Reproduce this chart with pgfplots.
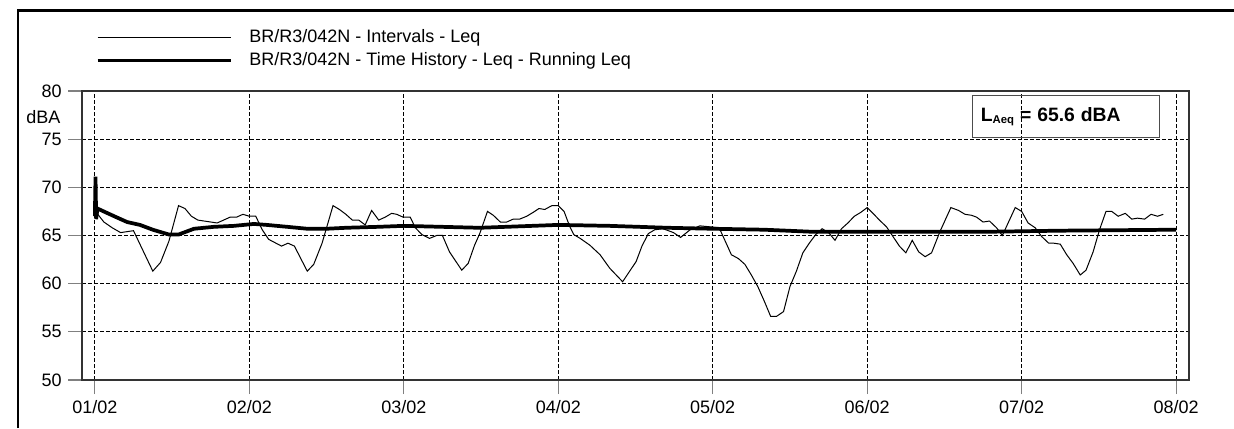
\documentclass[border=0pt]{standalone}
\usepackage{fontspec}
\setmainfont{Liberation Sans}
\usepackage{pgfplots}
\pgfplotsset{compat=1.18}

\pgfplotstableread{
h v
0.1 67.5
1.4 66.4
2.7 65.8
4 65.3
6 65.5
9 61.3
10.2 62.2
11.5 64.4
13 68.1
14 67.8
15 67.0
16 66.6
17 66.5
19 66.3
20 66.6
21 66.9
22 66.9
23 67.2
24 67.0
25 67.0
26 65.6
27 64.6
29 63.9
30 64.2
31 63.9
33 61.3
34 62.0
35.3 64.2
37 68.1
38 67.7
39 67.2
40 66.6
41 66.6
42 66.1
43 67.6
44.1 66.6
45.1 66.9
46.1 67.3
46.9 67.2
47.9 66.9
49 66.9
49.8 65.8
50.8 65.1
52 64.7
53.1 65.0
54 65.0
55.1 63.3
57 61.4
58 62.1
59 64.0
59.8 65.2
61 67.5
61.9 67.1
63 66.4
64 66.4
65 66.7
66 66.7
67.1 67.0
68.1 67.4
69 67.8
69.9 67.7
71 68.1
72 68.1
72.9 67.5
73.8 65.9
74.4 65.1
75.4 64.7
76.9 64.0
78.5 63.0
80 61.6
82 60.2
82.9 61.1
84.1 62.3
85 63.9
86 65.2
87 65.6
88.3 65.7
89.9 65.3
91 64.8
92.5 65.6
94 66.0
95.6 65.9
97 65.8
98.9 63.0
100 62.6
101 62.0
102 60.9
103 59.7
104 58.2
105 56.6
105.9 56.6
107 57.1
108 59.7
109 61.3
110 63.2
111 64.2
112 65.1
113 65.7
114 65.3
115 64.5
116 65.7
117 66.3
118 67.0
119 67.4
120 67.9
120.9 67.3
121.9 66.6
123 65.9
124 64.9
125 63.9
126 63.2
127 64.5
128 63.3
129 62.8
130 63.2
131.3 65.4
133 67.9
134.2 67.6
135.2 67.2
136.2 67.1
137 66.9
138 66.4
139 66.5
140.1 65.8
141 65.0
142.1 66.6
143 67.9
144 67.5
145 66.3
146.1 65.8
147.1 64.9
148.2 64.2
149 64.2
150 64.1
151 63.0
152 62.1
153.1 60.9
154 61.4
155.1 63.3
156.1 65.6
157.1 67.5
158 67.5
159 67.0
160.1 67.3
161.1 66.7
162 66.8
163.1 66.7
164.1 67.2
165.1 67.0
166 67.2
}\intervals

\pgfplotstableread{
h v
0 67.0
0.1 71.1
0.2 66.7
0.4 67.8
3 67.0
5 66.4
7 66.1
9 65.6
11.5 65.1
13 65.1
15.4 65.7
18.5 65.9
21.6 66.0
24.7 66.2
26.7 66.1
29.9 65.9
33 65.7
36 65.7
39 65.8
44 65.9
48 66.0
59.8 65.8
72 66.1
80 66.0
89 65.8
96 65.7
104 65.6
111 65.4
120 65.4
134 65.4
140 65.4
150 65.5
168 65.6
}\running

\begin{document}
\fontsize{13.5}{16}\selectfont
\begin{tikzpicture}
\useasboundingbox (0pt,0pt) rectangle (925.5pt,321pt);
\draw[line width=2.2pt] (13.5pt,0pt) -- (13.5pt,313pt) -- (925.5pt,313pt);
\begin{axis}[
    at={(61.5pt,36pt)}, anchor=south west,
    scale only axis,
    width=830.25pt, height=216.75pt,
    xmin=-2, xmax=170,
    ymin=50, ymax=80,
    xtick={0,24,48,72,96,120,144,168},
    xticklabels={01/02,02/02,03/02,04/02,05/02,06/02,07/02,08/02},
    ytick={50,55,60,65,70,75,80},
    /pgf/number format/assume math mode=true,
    tick align=outside,
    major tick length=10.5pt,
    tick style={gray, line width=0.8pt},
    xtick pos=bottom, ytick pos=left,
    axis line style={black!80, line width=0.8pt},
    grid=major,
    grid style={black, dash pattern=on 3pt off 1.5pt, line width=0.6pt},
    ticklabel style={font=\fontsize{13.5}{16}\selectfont},
    legend image code/.code={\draw[#1] (0pt,0pt) -- (100pt,0pt);},
    legend style={at={(0.0085,1.145)}, anchor=west, draw=none, fill=none,
        font=\fontsize{13.5}{16}\selectfont, row sep=2.5pt,
        nodes={inner sep=1.5pt}, column sep=11pt},
    legend cell align=left,
    clip=false,
]
\addplot[black, line width=0.75pt] table[x=h, y=v] {\intervals};
\addlegendentry{BR/R3/042N - Intervals - Leq}
\addplot[black, line width=2.8pt] table[x=h, y=v] {\running};
\addlegendentry{BR/R3/042N - Time History - Leq - Running Leq}

\node[anchor=east] at (rel axis cs:0,0.91) [xshift=-11.5pt] {dBA};
\node[draw=black!70, line width=0.8pt, anchor=north east,
      minimum width=140pt, minimum height=31.5pt,
      text width=128pt, inner xsep=6pt, align=left]
      at (rel axis cs:1,1) [xshift=-21.75pt, yshift=-3pt]
      {\fontsize{14.5}{16}\selectfont\bfseries L{\fontsize{8.5}{9}\selectfont\raisebox{-2pt}{Aeq}} = 65.6 dBA};
\end{axis}
\end{tikzpicture}
\end{document}
